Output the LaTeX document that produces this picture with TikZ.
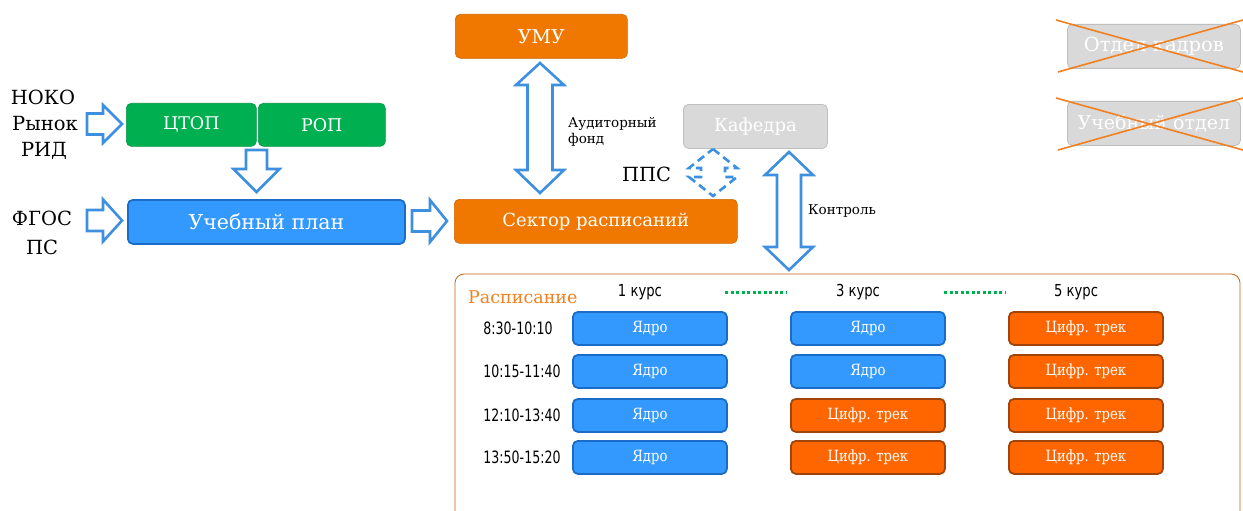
\documentclass[tikz,border=0pt]{standalone}
\usepackage{fontspec}
\setmainfont{DejaVu Serif}
\newfontfamily\narrowsans[FakeStretch=0.74]{DejaVu Sans}
\newfontfamily\courssans[FakeStretch=0.8]{DejaVu Sans}
\newfontfamily\narrowserif[FakeStretch=0.85]{DejaVu Serif}
\definecolor{umuor}{HTML}{F07800}
\definecolor{schor}{HTML}{FF6600}
\definecolor{schorb}{HTML}{A0440A}
\definecolor{bluef}{HTML}{3399FF}
\definecolor{blueb}{HTML}{1A6CC8}
\definecolor{greenf}{HTML}{00B050}
\definecolor{grayf}{HTML}{D9D9D9}
\definecolor{grayb}{HTML}{BFBFBF}
\definecolor{arrb}{HTML}{3D8FE0}
\definecolor{crossor}{HTML}{F08020}
\definecolor{dotgreen}{HTML}{00B050}
\newcommand\RArrShape[6]{%
 \draw[barrow] (#1,#4-#5) -- (#2,#4-#5) -- (#2,#4-#6) -- (#3,#4) -- (#2,#4+#6) -- (#2,#4+#5) -- (#1,#4+#5) -- cycle;}
\newcommand\DArrShape[6]{%
 \draw[barrow] (#4-#5,#1) -- (#4-#5,#2) -- (#4-#6,#2) -- (#4,#3) -- (#4+#6,#2) -- (#4+#5,#2) -- (#4+#5,#1) -- cycle;}
% xc, ytop, yh0, yh1, ybot, bodyhalf, headhalf
\newcommand\VDArrShape[8][]{%
 \draw[barrow,#1] (#2,#3) -- (#2+#8,#4) -- (#2+#7,#4) -- (#2+#7,#5) -- (#2+#8,#5) -- (#2,#6) -- (#2-#8,#5) -- (#2-#7,#5) -- (#2-#7,#4) -- (#2-#8,#4) -- cycle;}
\tikzset{
 barrow/.style={draw=arrb, line width=2.6pt, line join=miter, fill=white},
 box/.style={rounded corners=5pt, anchor=north west, inner sep=0pt, text=white},
 obox/.style={box, fill=umuor, draw=umuor!85!black, line width=0.6pt, font=\fontsize{18}{20}\selectfont},
 gbox/.style={box, fill=greenf, draw=greenf!85!black, line width=0.6pt, font=\fontsize{17.5}{20}\selectfont},
 bbox/.style={box, fill=bluef, draw=blueb, line width=1.8pt, font=\fontsize{20.5}{22}\selectfont},
 grbox/.style={box, fill=grayf, draw=grayb, line width=0.8pt, font=\fontsize{18}{20}\selectfont},
 sbox/.style={box, minimum width=154pt, minimum height=33pt, line width=1.8pt, font=\narrowserif\fontsize{15.5}{17}\selectfont},
 yadro/.style={sbox, fill=bluef, draw=blueb},
 trek/.style={sbox, fill=schor, draw=schorb},
 lbl/.style={font=\fontsize{19.5}{22}\selectfont, inner sep=0pt},
 small/.style={font=\fontsize{13.5}{15.5}\selectfont, inner sep=0pt, align=left},
 tlbl/.style={font=\narrowsans\fontsize{17}{19}\selectfont, inner sep=0pt},
 klbl/.style={font=\courssans\fontsize{16.5}{19}\selectfont, inner sep=0pt},
 cross/.style={draw=crossor, line width=1.6pt},
 dots/.style={dotgreen, line width=3pt, dash pattern=on 3pt off 2.5pt}
}
\begin{document}
\begin{tikzpicture}[x=1pt,y=-1pt]
\useasboundingbox (0,0) rectangle (1243,511);
\fill[white] (0,0) rectangle (1243,511);

% schedule frame
\begin{scope}
\clip (0,0) rectangle (1243,511);
\draw[draw=crossor!80!black, line width=0.8pt, rounded corners=9pt] (455,274) rectangle (1240,530);
\end{scope}

% top boxes
\node[obox, minimum width=172pt, minimum height=44pt, font=\fontsize{19}{20}\selectfont] (umu) at (455,14) {УМУ};
\node[gbox, minimum width=130pt, minimum height=43pt] (ctop) at (126,103) {ЦТОП};
\node[gbox, minimum width=127pt, minimum height=43pt] (rop) at (258,103) {РОП};
\node[bbox, minimum width=277pt, minimum height=44pt] (plan) at (127,199) {Учебный план};
\node[obox, minimum width=283pt, minimum height=44pt] (sector) at (454,199) {Сектор расписаний};
\node[grbox, minimum width=144pt, minimum height=44pt] (kaf) at (683,104) {Кафедра};
\node[grbox, minimum width=173pt, minimum height=44pt, font=\fontsize{19.5}{20}\selectfont] (okadr) at (1067,24) {Отдел кадров};
\node[grbox, minimum width=173pt, minimum height=44pt, font=\fontsize{19}{20}\selectfont] (uotd) at (1067,101) {Учебный отдел};

% crosses
\draw[cross] (1056,20) -- (1243,72);
\draw[cross] (1058,72) -- (1243,20);
\draw[cross] (1056,98) -- (1243,150);
\draw[cross] (1058,150) -- (1243,98);

% left labels
\node[lbl] (noko) at (43,97) {НОКО};
\node[lbl] (rynok) at (45,124) {Рынок};
\node[lbl] (rid) at (44,151) {РИД};
\node[lbl] (fgos) at (42,218) {ФГОС};
\node[lbl] (ps) at (42,247) {ПС};

% block arrows
\RArrShape{87}{103}{122}{124}{10.5}{19}
\RArrShape{87}{103}{122}{220.5}{10.5}{21}
\RArrShape{412}{430}{447}{221}{10.5}{21}
\DArrShape{150}{169}{192}{256.5}{10.5}{23}
\VDArrShape{540}{63}{85}{170}{193}{12.5}{24}
\VDArrShape[dashed, dash pattern=on 8pt off 5pt]{713}{149}{168}{177}{196}{12}{24}
\VDArrShape{789}{152}{175}{247}{270}{12}{24}

\node[small, anchor=west] (fond) at (568,132) {Аудиторный\\фонд};
\node[lbl, anchor=west] (pps) at (622,174) {ППС};
\node[small, anchor=west] (kontrol) at (808,211) {Контроль};

% schedule
\node[font=\fontsize{17.5}{20}\selectfont, text=crossor, anchor=west, inner sep=0pt] (rasp) at (468,297) {Расписание};
\node[klbl] (k1) at (640,292) {1 курс};
\node[klbl] (k3) at (858,292) {3 курс};
\node[klbl] (k5) at (1076,292) {5 курс};
\draw[dots] (725,292) -- (787,292);
\draw[dots] (944,292) -- (1006,292);

\node[tlbl] (t1) at (518,328) {8:30-10:10};
\node[tlbl] (t2) at (522,371) {10:15-11:40};
\node[tlbl] (t3) at (522,415) {12:10-13:40};
\node[tlbl] (t4) at (522,457) {13:50-15:20};

\node[yadro] (a1) at (572,311) {Ядро};
\node[yadro] (a2) at (572,354) {Ядро};
\node[yadro] (a3) at (572,398) {Ядро};
\node[yadro] (a4) at (572,440) {Ядро};
\node[yadro] (b1) at (790,311) {Ядро};
\node[yadro] (b2) at (790,354) {Ядро};
\node[trek] (b3) at (790,398) {Цифр. трек};
\node[trek] (b4) at (790,440) {Цифр. трек};
\node[trek] (c1) at (1008,311) {Цифр. трек};
\node[trek] (c2) at (1008,354) {Цифр. трек};
\node[trek] (c3) at (1008,398) {Цифр. трек};
\node[trek] (c4) at (1008,440) {Цифр. трек};
\end{tikzpicture}
\end{document}
